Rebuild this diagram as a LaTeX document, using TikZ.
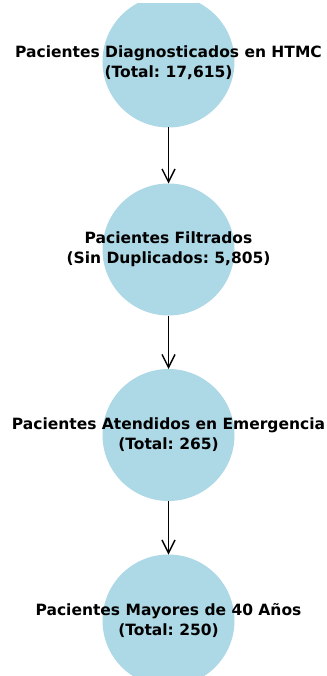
\documentclass[tikz,border=0pt]{standalone}
\usepackage{fontspec}
\setmainfont{DejaVu Sans}
\usetikzlibrary{arrows.meta}
\definecolor{celeste}{HTML}{ADD8E6}
\tikzset{
	etapa/.style={circle,fill=celeste,minimum size=132pt,inner sep=0pt,outer sep=0pt},
	texto/.style={align=center,font=\frenchspacing\bfseries\fontsize{15.5}{20}\selectfont},
	flecha/.style={line width=1.4pt,-{Straight Barb[length=13pt,width=13pt,line width=1.4pt]}}
}
\begin{document}
\begin{tikzpicture}[x=1pt,y=-1pt]
\useasboundingbox (0,0) rectangle (326,676);
\clip (0,4) rectangle (326,676);

%Etapas
\node[etapa] (diag) at (168.5,61.5) {};
\node[etapa] (filt) at (168.5,249.5) {};
\node[etapa] (emerg) at (168.5,435) {};
\node[etapa] (mayor) at (168.5,620.5) {};

%Textos
\node[texto] (diagtxt) at (168.5,63) {Pacientes Diagnosticados en HTMC\\(Total: 17,615)};
\node[texto] (filttxt) at (filt) {Pacientes Filtrados\\(Sin Duplicados: 5,805)};
\node[texto] (emergtxt) at (emerg) {Pacientes Atendidos en Emergencia\\(Total: 265)};
\node[texto] (mayortxt) at (mayor) {Pacientes Mayores de 40 Años\\(Total: 250)};

%Flechas
\foreach \a/\b in {diag/filt, filt/emerg, emerg/mayor}
{
	\draw[flecha] (\a) -- (\b);
}

\end{tikzpicture}
\end{document}
